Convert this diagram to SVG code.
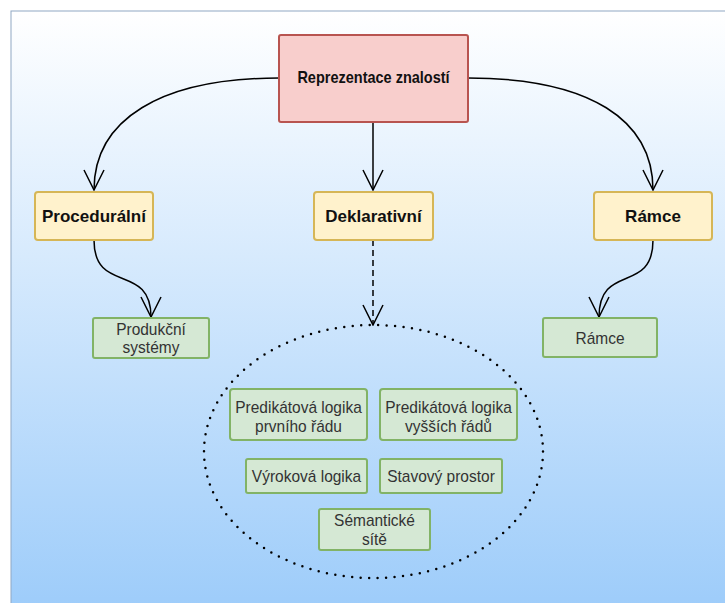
<svg xmlns="http://www.w3.org/2000/svg" width="725" height="603" viewBox="0 0 725 603">
  <defs>
    <linearGradient id="bg" x1="0" y1="0" x2="0" y2="1">
      <stop offset="0" stop-color="#FFFFFF"/>
      <stop offset="1" stop-color="#9DCCFA"/>
    </linearGradient>
    <!-- open V arrowhead, pointing along the path direction -->
    <marker id="openR" viewBox="0 0 22 22" refX="21" refY="11" markerWidth="22" markerHeight="22" markerUnits="userSpaceOnUse" orient="auto">
      <path d="M1,1 L21,11 L1,21" fill="none" stroke="#000" stroke-width="1.5"/>
    </marker>
  </defs>
  <style>
    .root { fill: #F8CECC; stroke: #B85450; stroke-width: 2; }
    .cat { fill: #FFF2CC; stroke: #D6B656; stroke-width: 2; }
    .leaf { fill: #D5E8D4; stroke: #82B366; stroke-width: 2; }
    .tb { font-family: "Liberation Sans", Arial, sans-serif; font-weight: bold; fill: #111; text-anchor: middle; }
    .tl { font-family: "Liberation Sans", Arial, sans-serif; font-size: 15.5px; fill: #333; text-anchor: middle; }
    .edge { fill: none; stroke: #000; stroke-width: 1.5; marker-end: url(#openR); }
  </style>

  <!-- backdrop panel -->
  <rect x="0" y="0" width="725" height="603" fill="#FFFFFF"/>
  <rect x="11" y="11" width="720" height="600" fill="url(#bg)" stroke="#8FA8C4" stroke-width="1"/>

  <!-- connectors -->
  <g id="connectors">
    <path class="edge" d="M279,78 C160,78 94,120 94,190"/>
    <path class="edge" d="M468,78 C590,78 653,120 653,190"/>
    <path class="edge" d="M373,122 L373,190"/>
    <path class="edge" d="M94,240 C94,295 151,262 151,317"/>
    <path class="edge" d="M653,240 C653,295 599,262 599,317"/>
    <path class="edge" d="M373,240 L373,325" stroke-dasharray="6 4"/>
  </g>

  <!-- dotted group boundary -->
  <g id="declarative-group">
    <ellipse cx="373.5" cy="451.5" rx="169.5" ry="126.5" fill="none" stroke="#000" stroke-width="2.5" stroke-linecap="round" stroke-dasharray="0 8.5"/>
  </g>

  <g id="root">
    <rect class="root" x="279" y="35" width="189" height="87" rx="2"/>
    <text class="tb" transform="translate(373.5,83) scale(1,1.1)" font-size="14.5">Reprezentace znalostí</text>
  </g>

  <g id="proceduralni">
    <rect class="cat" x="35" y="192" width="118" height="48" rx="3"/>
    <text class="tb" x="94" y="222" font-size="17">Procedurální</text>
  </g>
  <g id="deklarativni">
    <rect class="cat" x="314" y="192" width="119" height="48" rx="3"/>
    <text class="tb" x="373.5" y="222" font-size="17">Deklarativní</text>
  </g>
  <g id="ramce">
    <rect class="cat" x="594" y="192" width="118" height="48" rx="3"/>
    <text class="tb" x="653" y="222" font-size="17">Rámce</text>
  </g>

  <g id="produkcni-systemy">
    <rect class="leaf" x="93" y="318" width="116" height="40" rx="2"/>
    <text class="tl" transform="translate(151,335) scale(1,1.12)">Produkční</text>
    <text class="tl" transform="translate(151,353) scale(1,1.12)">systémy</text>
  </g>
  <g id="ramce-leaf">
    <rect class="leaf" x="543" y="318" width="114" height="39" rx="2"/>
    <text class="tl" transform="translate(600,344) scale(1,1.12)">Rámce</text>
  </g>

  <g id="predikatova-1">
    <rect class="leaf" x="230" y="389" width="137" height="51" rx="3"/>
    <text class="tl" transform="translate(298.5,413) scale(1,1.12)">Predikátová logika</text>
    <text class="tl" transform="translate(298.5,432) scale(1,1.12)">prvního řádu</text>
  </g>
  <g id="predikatova-vyssi">
    <rect class="leaf" x="380" y="389" width="137" height="51" rx="3"/>
    <text class="tl" transform="translate(448.5,413) scale(1,1.12)">Predikátová logika</text>
    <text class="tl" transform="translate(448.5,432) scale(1,1.12)">vyšších řádů</text>
  </g>
  <g id="vyrokova">
    <rect class="leaf" x="246" y="459" width="121" height="34" rx="2"/>
    <text class="tl" transform="translate(306.5,482) scale(1,1.12)">Výroková logika</text>
  </g>
  <g id="stavovy">
    <rect class="leaf" x="380" y="459" width="122" height="34" rx="2"/>
    <text class="tl" transform="translate(441,482) scale(1,1.12)">Stavový prostor</text>
  </g>
  <g id="semanticke">
    <rect class="leaf" x="319" y="509" width="111" height="41" rx="2"/>
    <text class="tl" transform="translate(374.5,526) scale(1,1.12)">Sémantické</text>
    <text class="tl" transform="translate(374.5,545) scale(1,1.12)">sítě</text>
  </g>
</svg>
